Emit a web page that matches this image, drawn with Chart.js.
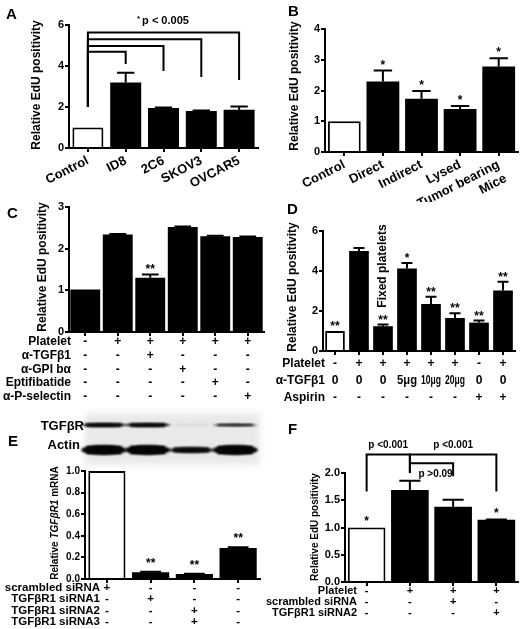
<!DOCTYPE html>
<html>
<head>
<meta charset="utf-8">
<script src="https://cdn.jsdelivr.net/npm/chart.js@4.4.1/dist/chart.umd.min.js"></script>
<style>
  html, body { margin: 0; padding: 0; background: #fff; }
  #wrap { position: relative; width: 520px; height: 629px; overflow: hidden; background: #fff; }
  #wrap canvas { position: absolute; left: 0; top: 0; }
  .tag { position: absolute; font: bold 15px 'Liberation Sans', Arial, sans-serif; line-height: 1; color: #000; }
</style>
</head>
<body>
<div id="wrap">
  <canvas id="cA" width="520" height="629"></canvas>
  <canvas id="cB" width="520" height="629"></canvas>
  <canvas id="cC" width="520" height="629"></canvas>
  <canvas id="cD" width="520" height="629"></canvas>
  <canvas id="cE" width="520" height="629"></canvas>
  <canvas id="cF" width="520" height="629"></canvas>
  <div class="tag" style="left:6px;top:6px">A</div>
  <div class="tag" style="left:288px;top:3px">B</div>
  <div class="tag" style="left:7px;top:205px">C</div>
  <div class="tag" style="left:287px;top:201px">D</div>
  <div class="tag" style="left:8px;top:433px">E</div>
  <div class="tag" style="left:288px;top:421px">F</div>
</div>
<script>
const FONT = "'Liberation Sans', Arial, Helvetica, sans-serif";

// A - tumour cell lines
const aLabels = ['Control', 'ID8', '2C6', 'SKOV3', 'OVCAR5'];
const aValues = [1.0, 3.19, 1.95, 1.81, 1.86];
const aErrors = [0, 0.48, 0.02, 0.02, 0.16];
const aTicks = [0, 2, 4, 6];
const aFrom = [0, 0, 0, 0];
const aTo = [1, 2, 3, 4];
const aLevel = [4.70, 4.98, 5.30, 5.63];
const aFromEnd = [2.0, 2.0, 2.0, 2.0];
const aToEnd = [4.10, 3.76, 3.46, 3.32];

// B - platelet contact
const bLabels = ['Control', 'Direct', 'Indirect', 'Lysed', ['Tumor bearing', 'Mice']];
const bValues = [1.0, 2.29, 1.73, 1.40, 2.78];
const bErrors = [0, 0.36, 0.25, 0.10, 0.27];
const bStars = ['', '*', '*', '*', '*'];
const bTicks = [0, 1, 2, 3, 4];

// C - blocking
const cRows = ['Platelet', 'α-TGFβ1', 'α-GPI bα', 'Eptifibatide', 'α-P-selectin'];
const cCells = [
  ['-', '+', '+', '+', '+', '+'],
  ['-', '-', '+', '-', '-', '-'],
  ['-', '-', '-', '+', '-', '-'],
  ['-', '-', '-', '-', '+', '-'],
  ['-', '-', '-', '-', '-', '+']
];
const cValues = [1.02, 2.34, 1.30, 2.52, 2.30, 2.28];
const cErrors = [0, 0.01, 0.08, 0.01, 0.01, 0.01];
const cStars = ['', '', '**', '', '', ''];
const cTicks = [0, 1, 2, 3];

// D - anti-TGFb1 dose / aspirin
const dRows = ['Platelet', 'α-TGFβ1', 'Aspirin'];
const dCells = [
  ['-', '+', '+', '+', '+', '+', '-', '+'],
  ['0', '0', '0', '5μg', '10μg', '20μg', '0', '0'],
  ['-', '-', '-', '-', '-', '-', '+', '+']
];
const dValues = [1.0, 5.0, 1.24, 4.12, 2.35, 1.65, 1.42, 3.03];
const dErrors = [0, 0.15, 0.08, 0.28, 0.36, 0.24, 0.10, 0.43];
const dStars = ['**', '', '**', '*', '**', '**', '**', '**'];
const dTicks = [0, 2, 4, 6];
const dNote = 'Fixed platelets';
const dNoteAt = 2;
const dNoteLevel = 4.25;

// E - siRNA knockdown
const eRows = ['scrambled siRNA', 'TGFβR1 siRNA1', 'TGFβR1 siRNA2', 'TGFβR1 siRNA3'];
const eCells = [
  ['+', '-', '-', '-'],
  ['-', '+', '-', '-'],
  ['-', '-', '+', '-'],
  ['-', '-', '+', '-']
];
const eValues = [1.0, 0.062, 0.046, 0.286];
const eErrors = [0, 0.004, 0.003, 0.008];
const eStars = ['', '**', '**', '**'];
const eTicks = [0, 0.2, 0.4, 0.6, 0.8, 1.0];
const eBlotNames = ['TGFβR', 'Actin'];
const eBlotTGF = [0.95, 0.95, 0.04, 0.8];
const eBlotActin = [1, 1, 0.9, 1];

// F - knockdown rescue
const fRows = ['Platelet', 'scrambled siRNA', 'TGFβR1 siRNA2'];
const fCells = [
  ['-', '+', '+', '+'],
  ['-', '-', '+', '-'],
  ['-', '-', '-', '+']
];
const fValues = [1.0, 1.69, 1.38, 1.14];
const fErrors = [0, 0.17, 0.13, 0.005];
const fStars = ['*', '', '', '*'];
const fTicks = [0, 0.5, 1.0, 1.5, 2.0];
const fFrom = [0, 1, 1];
const fTo = [1, 3, 2];
const fLevel = [2.34, 2.34, 2.18];
const fFromEnd = [1.66, 2.0, null];
const fToEnd = [2.0, 1.66, 1.94];
const fNotes = ['p <0.001', 'p <0.001', 'p >0.09'];

const colsOf = cells => cells[0].map((_, i) => cells.map(r => r[i]).join(' '));

function bold(px, style) { return (style || '') + ' bold ' + px + 'px ' + FONT; }

function makeExtras(o) {
  return {
    id: 'extras',
    afterDatasetsDraw(chart) {
      const ctx = chart.ctx, xs = chart.scales.x, ys = chart.scales.y, area = chart.chartArea;
      const meta = chart.getDatasetMeta(0);
      const colW = xs.getPixelForValue(1) - xs.getPixelForValue(0);
      ctx.save();
      ctx.strokeStyle = '#000';
      ctx.fillStyle = '#000';
      ctx.lineWidth = 2;
      ctx.lineCap = 'butt';

      // error bars (upper arm only)
      (o.errors || []).forEach((e, i) => {
        if (!e) return;
        const bar = meta.data[i];
        const top = ys.getPixelForValue(o.values[i] + e);
        const cap = bar.width * 0.28;
        ctx.beginPath();
        ctx.moveTo(bar.x, bar.y);
        ctx.lineTo(bar.x, top);
        ctx.moveTo(bar.x - cap, top);
        ctx.lineTo(bar.x + cap, top);
        ctx.stroke();
      });

      // significance stars
      ctx.font = bold(12);
      ctx.textAlign = 'center';
      ctx.textBaseline = 'alphabetic';
      (o.stars || []).forEach((s, i) => {
        if (!s) return;
        const top = ys.getPixelForValue(o.values[i] + (o.errors[i] || 0));
        ctx.fillText(s, xs.getPixelForValue(i), top - o.starGap + 7);
      });

      // brackets
      if (o.brackets) {
        const b = o.brackets;
        b.from.forEach((f, k) => {
          const x1 = xs.getPixelForValue(f), x2 = xs.getPixelForValue(b.to[k]);
          const yl = ys.getPixelForValue(b.level[k]);
          ctx.beginPath();
          ctx.moveTo(x1, yl); ctx.lineTo(x2, yl);
          if (b.fromEnd[k] != null) { ctx.moveTo(x1, yl - 1); ctx.lineTo(x1, ys.getPixelForValue(b.fromEnd[k])); }
          if (b.toEnd[k] != null) { ctx.moveTo(x2, yl - 1); ctx.lineTo(x2, ys.getPixelForValue(b.toEnd[k])); }
          ctx.stroke();
          if (b.notes) {
            ctx.font = bold(10);
            ctx.textBaseline = 'middle';
            const below = b.below && b.below[k];
            ctx.fillText(b.notes[k], (x1 + x2) / 2 + (below ? 4 : 0), below ? yl + 11 : yl - 9);
          }
        });
      }

      // free note above whole panel
      if (o.pNote) {
        ctx.textBaseline = 'alphabetic';
        ctx.font = bold(11);
        const w = ctx.measureText(o.pNote).width;
        const cx = (xs.getPixelForValue(0) + xs.getPixelForValue(o.values.length - 1)) / 2;
        ctx.textAlign = 'left';
        ctx.fillText(o.pNote, cx - w / 2 + 2, area.top - 1);
        ctx.font = bold(8);
        ctx.fillText('*', cx - w / 2 - 3, area.top - 4);
      }

      // rotated note on a bar
      if (o.barNote) {
        ctx.save();
        ctx.translate(xs.getPixelForValue(o.barNote.at), ys.getPixelForValue(o.barNote.level));
        ctx.rotate(-Math.PI / 2);
        ctx.font = bold(12);
        ctx.textAlign = 'center';
        ctx.textBaseline = 'middle';
        ctx.fillText(o.barNote.text, 0, 0);
        ctx.restore();
      }

      // condition table under the axis
      if (o.table) {
        const t = o.table;
        ctx.textBaseline = 'middle';
        t.rows.forEach((name, r) => {
          const y = t.y0 + r * t.dy;
          ctx.font = bold(t.size);
          ctx.textAlign = 'right';
          ctx.fillText(name, t.labelX, y);
          ctx.textAlign = 'center';
          t.cells[r].forEach((c, i) => ctx.fillText(c, xs.getPixelForValue(i), y, colW - 4));
        });
      }

      // y title
      const tt = o.title;
      ctx.save();
      ctx.translate(tt.x, tt.y);
      ctx.rotate(-Math.PI / 2);
      ctx.textBaseline = 'middle';
      ctx.textAlign = 'left';
      let total = 0;
      tt.parts.forEach(p => { ctx.font = bold(tt.size, p[1]); total += ctx.measureText(p[0]).width; });
      let x = -total / 2;
      tt.parts.forEach(p => { ctx.font = bold(tt.size, p[1]); ctx.fillText(p[0], x, 0); x += ctx.measureText(p[0]).width; });
      ctx.restore();

      // western blot strip
      if (o.blot) {
        const bl = o.blot;
        ctx.fillStyle = '#e9e9e9';
        ctx.filter = 'blur(3px)';
        ctx.fillRect(xs.left, bl.top, xs.right - xs.left, bl.height);
        ctx.filter = 'blur(1px)';
        bl.lanes.forEach((lane, r) => {
          lane.forEach((v, i) => {
            const cx = xs.getPixelForValue(i) - 3;
            const h = bl.thick[r] * (v < 0.92 ? 0.6 : 1);
            ctx.fillStyle = 'rgba(5,5,5,' + v + ')';
            ctx.beginPath();
            ctx.ellipse(cx, bl.ys[r], colW * 0.52, h / 2, 0, 0, Math.PI * 2);
            ctx.fill();
            ctx.fillRect(cx - colW * 0.4, bl.ys[r] - h * 0.4, colW * 0.8, h * 0.8);
          });
        });
        ctx.filter = 'none';
        ctx.fillStyle = '#000';
        ctx.font = bold(13);
        ctx.textAlign = 'right';
        ctx.textBaseline = 'middle';
        ctx.fillText(bl.names[0], xs.left - 1, bl.ys[0] + 1);
        ctx.fillText(bl.names[1], xs.left - 5, bl.ys[1] - 5);
      }
      ctx.restore();
    }
  };
}

function makePanel(o) {
  const [L, T, R, B] = o.area;
  const yw = 30, xh = 50;
  return new Chart(document.getElementById(o.id), {
    type: 'bar',
    data: {
      labels: o.labels,
      datasets: [{
        data: o.values,
        backgroundColor: o.values.map((_, i) => (o.hollow && i === 0) ? '#fff' : '#000'),
        borderColor: '#000',
        borderWidth: o.values.map((_, i) => (o.hollow && i === 0) ? 2 : 0),
        barPercentage: o.barPct,
        categoryPercentage: 1
      }]
    },
    options: {
      responsive: false,
      animation: false,
      events: [],
      layout: { padding: { left: L - yw, top: T, right: 520 - R, bottom: 629 - B - xh } },
      plugins: { legend: { display: false }, tooltip: { enabled: false } },
      scales: {
        x: {
          offset: true,
          grid: { offset: false, drawOnChartArea: false, drawTicks: true, tickLength: 4, lineWidth: 2, color: '#000' },
          border: { display: true, width: 2, color: '#000' },
          ticks: {
            display: !!o.rotation,
            autoSkip: false,
            minRotation: o.rotation || 0,
            maxRotation: o.rotation || 0,
            padding: 1,
            color: '#000',
            font: { family: FONT, weight: 'bold', size: 13 }
          },
          afterFit: s => { s.height = xh; }
        },
        y: {
          min: 0,
          max: o.ticks[o.ticks.length - 1],
          afterBuildTicks: s => { s.ticks = o.ticks.map(v => ({ value: v })); },
          grid: { drawOnChartArea: false, drawTicks: true, tickLength: 4, lineWidth: 2, color: '#000' },
          border: { display: true, width: 2, color: '#000' },
          ticks: {
            padding: 1,
            color: '#000',
            font: { family: FONT, weight: 'bold', size: o.tickSize || 11 },
            callback: v => o.decimals ? Number(v).toFixed(o.decimals) : String(v)
          },
          afterFit: s => { s.width = yw; }
        }
      }
    },
    plugins: [makeExtras(o)]
  });
}

const edu = [['Relative EdU positivity', '']];

makePanel({
  id: 'cA', area: [69, 25, 258, 148], labels: aLabels, values: aValues, errors: aErrors,
  ticks: aTicks, hollow: true, barPct: 0.82, rotation: 27, starGap: 9,
  brackets: { from: aFrom, to: aTo, level: aLevel, fromEnd: aFromEnd, toEnd: aToEnd },
  pNote: 'p < 0.005',
  title: { x: 37, y: 85, size: 12, parts: edu }
});

makePanel({
  id: 'cB', area: [325, 29, 518, 152], labels: bLabels, values: bValues, errors: bErrors,
  stars: bStars, ticks: bTicks, hollow: true, barPct: 0.85, rotation: 27, starGap: 9,
  title: { x: 295, y: 86, size: 12, parts: edu }
});

makePanel({
  id: 'cC', area: [69, 207, 264, 332], labels: colsOf(cCells), values: cValues, errors: cErrors,
  stars: cStars, ticks: cTicks, hollow: false, barPct: 0.92, starGap: 9,
  table: { rows: cRows, cells: cCells, labelX: 71, y0: 342, dy: 13.7, size: 12 },
  title: { x: 43, y: 267, size: 12, parts: edu }
});

makePanel({
  id: 'cD', area: [323, 231, 515, 351], labels: colsOf(dCells), values: dValues, errors: dErrors,
  stars: dStars, ticks: dTicks, hollow: true, barPct: 0.82, starGap: 8,
  barNote: { text: dNote, at: dNoteAt, level: dNoteLevel },
  table: { rows: dRows, cells: dCells, labelX: 325, y0: 364, dy: 17, size: 12 },
  title: { x: 293, y: 287, size: 12, parts: edu }
});

makePanel({
  id: 'cE', area: [85, 471, 260, 579], labels: colsOf(eCells), values: eValues, errors: eErrors,
  stars: eStars, ticks: eTicks, decimals: 1, tickSize: 10, hollow: true, barPct: 0.85, starGap: 12,
  table: { rows: eRows, cells: eCells, labelX: 100, y0: 588, dy: 11.3, size: 11.5 },
  blot: { names: eBlotNames, lanes: [eBlotTGF, eBlotActin], ys: [425, 450], thick: [4, 10], top: 413, height: 52 },
  title: { x: 55, y: 523, size: 10, parts: [['Relative ', ''], ['TGFβR1', 'italic'], [' mRNA', '']] }
});

makePanel({
  id: 'cF', area: [345, 473, 518, 582], labels: colsOf(fCells), values: fValues, errors: fErrors,
  stars: fStars, ticks: fTicks, decimals: 1, hollow: true, barPct: 0.87, starGap: 10,
  brackets: { from: fFrom, to: fTo, level: fLevel, fromEnd: fFromEnd, toEnd: fToEnd, notes: fNotes, below: [false, false, true] },
  table: { rows: fRows, cells: fCells, labelX: 357, y0: 591, dy: 11, size: 11 },
  title: { x: 315, y: 527, size: 10, parts: edu }
});
</script>
</body>
</html>
